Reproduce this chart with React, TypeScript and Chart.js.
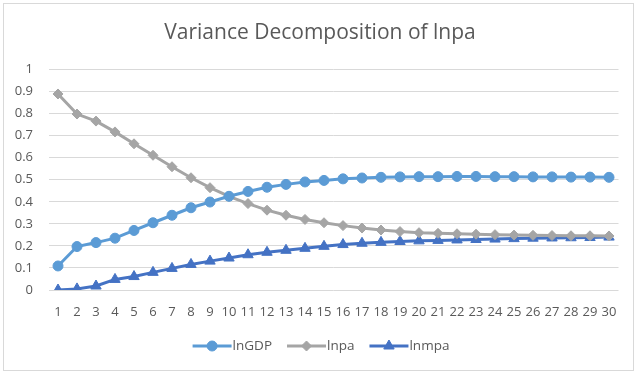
import React, { useEffect, useRef } from "react";
import { Chart, registerables } from "chart.js";
import { drawPoint } from "chart.js/helpers";

Chart.register(...registerables);

const periods: string[] = Array.from({ length: 30 }, (_, i) => String(i + 1));

const lnGDP: number[] = [
  0.109, 0.197, 0.215, 0.235, 0.27, 0.305, 0.339, 0.373, 0.399, 0.425,
  0.447, 0.466, 0.479, 0.49, 0.497, 0.504, 0.508, 0.511, 0.513, 0.514,
  0.514, 0.515, 0.515, 0.514, 0.514, 0.513, 0.513, 0.512, 0.512, 0.511,
];

const lnpa: number[] = [
  0.889, 0.798, 0.766, 0.717, 0.663, 0.611, 0.559, 0.509, 0.464, 0.425,
  0.392, 0.362, 0.339, 0.32, 0.305, 0.292, 0.281, 0.272, 0.265, 0.26,
  0.257, 0.255, 0.253, 0.251, 0.249, 0.248, 0.247, 0.246, 0.246, 0.245,
];

const lnmpa: number[] = [
  0.0, 0.005, 0.018, 0.048, 0.061, 0.08, 0.098, 0.116, 0.131, 0.145,
  0.16, 0.171, 0.18, 0.189, 0.198, 0.206, 0.212, 0.216, 0.22, 0.223,
  0.225, 0.227, 0.229, 0.231, 0.233, 0.235, 0.236, 0.237, 0.238, 0.24,
];

const yTicks: number[] = [0, 0.1, 0.2, 0.3, 0.4, 0.5, 0.6, 0.7, 0.8, 0.9, 1];

const titleText = "Variance Decomposition of lnpa";
const FONT = "'Open Sans', sans-serif";
const TEXT = "#595959";

const decorPlugin = {
  id: "decor",
  afterDraw(chart: any) {
    const ctx = chart.ctx as CanvasRenderingContext2D;
    const W = chart.width;
    ctx.save();
    // outer border
    ctx.strokeStyle = "#d9d9d9";
    ctx.lineWidth = 1;
    ctx.strokeRect(3.5, 3.5, 630, 367);
    // title
    ctx.fillStyle = TEXT;
    ctx.font = `21px ${FONT}`;
    ctx.textAlign = "center";
    ctx.textBaseline = "middle";
    ctx.fillText(titleText, 320, 33);
    // legend
    ctx.font = `13.5px ${FONT}`;
    const items = chart.data.datasets.map((ds: any) => ({
      ds,
      tw: ctx.measureText(ds.label).width,
    }));
    const lineW = 39;
    const gap = 15;
    const total =
      items.reduce((s: number, it: any) => s + lineW + 1 + it.tw, 0) + gap * (items.length - 1);
    let x = W / 2 - total / 2;
    const y = 346;
    items.forEach((it: any) => {
      ctx.strokeStyle = it.ds.borderColor;
      ctx.lineWidth = 3;
      ctx.beginPath();
      ctx.moveTo(x, y);
      ctx.lineTo(x + lineW, y);
      ctx.stroke();
      ctx.fillStyle = it.ds.backgroundColor;
      ctx.strokeStyle = it.ds.borderColor;
      ctx.lineWidth = 1;
      drawPoint(
        ctx,
        { pointStyle: it.ds.pointStyle, radius: it.ds.pointRadius, rotation: 0, borderWidth: 1 } as any,
        x + lineW / 2,
        y
      );
      ctx.fillStyle = TEXT;
      ctx.textAlign = "left";
      ctx.textBaseline = "middle";
      ctx.fillText(it.ds.label, x + lineW + 1, y);
      x += lineW + 1 + it.tw + gap;
    });
    ctx.restore();
  },
};

export default function App() {
  const ref = useRef<HTMLCanvasElement | null>(null);
  useEffect(() => {
    document.body.style.margin = "0";
    const ctx = ref.current!.getContext("2d")!;
    const mk = (label: string, data: number[], color: string, style: string, r: number) => ({
      label,
      data,
      borderColor: color,
      backgroundColor: color,
      borderWidth: 3,
      pointStyle: style,
      pointRadius: r,
      pointHoverRadius: r,
      pointBorderWidth: 1,
      tension: 0,
    });
    const chart = new Chart(ctx, {
      type: "line",
      data: {
        labels: periods,
        datasets: [
          mk("lnGDP", lnGDP, "#5B9BD5", "circle", 5),
          mk("lnpa", lnpa, "#A5A5A5", "rectRot", 5),
          mk("lnmpa", lnmpa, "#4472C4", "triangle", 6),
        ],
      },
      options: {
        animation: false,
        responsive: false,
        devicePixelRatio: 1,
        layout: { padding: { left: 8, right: 23.5, top: 69.5, bottom: 0 } },
        plugins: {
          legend: { display: false },
          title: { display: false },
          tooltip: { enabled: false },
        },
        scales: {
          x: {
            type: "category",
            offset: true,
            grid: { display: false, drawTicks: false },
            border: { display: false },
            ticks: {
              autoSkip: false,
              maxRotation: 0,
              color: TEXT,
              font: { family: FONT, size: 13 },
              padding: 14,
            },
            afterFit(scale: any) {
              scale.height = 86;
            },
          },
          y: {
            min: 0,
            max: 1,
            afterBuildTicks(scale: any) {
              scale.ticks = yTicks.map((v) => ({ value: v }));
            },
            grid: { color: "#d9d9d9", lineWidth: 1, drawTicks: false },
            border: { display: false },
            ticks: {
              color: TEXT,
              font: { family: FONT, size: 13 },
              padding: 15.5,
              callback: (v: any) => String(Math.round(Number(v) * 10) / 10),
            },
            afterFit(scale: any) {
              scale.width = 40.5;
            },
          },
        },
      },
      plugins: [decorPlugin],
    });
    return () => chart.destroy();
  }, []);
  return (
    <div style={{ position: "absolute", left: 0, top: 0, width: 642, height: 376 }}>
      <canvas ref={ref} width={642} height={376} style={{ width: 642, height: 376 }} />
    </div>
  );
}
